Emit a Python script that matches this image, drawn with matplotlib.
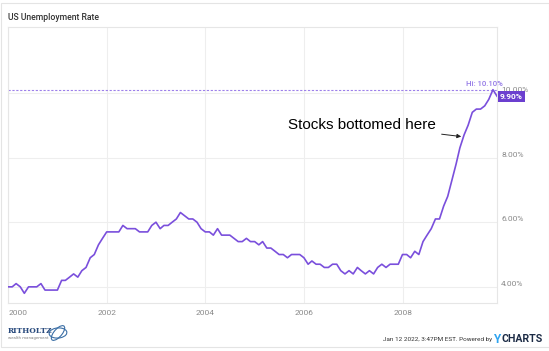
import numpy as np
import pandas as pd
import matplotlib.pyplot as plt
import matplotlib.dates as mdates
from matplotlib.patches import Rectangle, Ellipse

# monthly US unemployment rate, Dec 1999 - Nov 2009 (month-end dates)
dates = pd.date_range("1999-12-31", "2009-11-30", freq="ME")
rate = [4.0,
        4.0, 4.1, 4.0, 3.8, 4.0, 4.0, 4.0, 4.1, 3.9, 3.9, 3.9, 3.9,
        4.2, 4.2, 4.3, 4.4, 4.3, 4.5, 4.6, 4.9, 5.0, 5.3, 5.5, 5.7,
        5.7, 5.7, 5.7, 5.9, 5.8, 5.8, 5.8, 5.7, 5.7, 5.7, 5.9, 6.0,
        5.8, 5.9, 5.9, 6.0, 6.1, 6.3, 6.2, 6.1, 6.1, 6.0, 5.8, 5.7,
        5.7, 5.6, 5.8, 5.6, 5.6, 5.6, 5.5, 5.4, 5.4, 5.5, 5.4, 5.4,
        5.3, 5.4, 5.2, 5.2, 5.1, 5.0, 5.0, 4.9, 5.0, 5.0, 5.0, 4.9,
        4.7, 4.8, 4.7, 4.7, 4.6, 4.6, 4.7, 4.7, 4.5, 4.4, 4.5, 4.4,
        4.6, 4.5, 4.4, 4.5, 4.4, 4.6, 4.7, 4.6, 4.7, 4.7, 4.7, 5.0,
        5.0, 4.9, 5.1, 5.0, 5.4, 5.6, 5.8, 6.1, 6.1, 6.5, 6.8, 7.3,
        7.8, 8.3, 8.7, 9.0, 9.4, 9.5, 9.5, 9.6, 9.8, 10.1, 9.9]
x_years = [2000, 2002, 2004, 2006, 2008]
y_ticks = [4, 6, 8, 10]
hi_value = max(rate)
last_value = rate[-1]

purple = "#7a4fdc"
grid_c = "#eeeeee"

W, H = 549, 351
fig = plt.figure(figsize=(W / 100, H / 100), dpi=100)
ax = fig.add_axes([8 / W, 1 - 303 / H, (497 - 8) / W, (303 - 27) / H])

ax.plot(dates, rate, color=purple, lw=1.2, zorder=3)
ax.axhline(hi_value, color="#9d80ea", lw=0.8, ls=(0, (2, 1.5)), zorder=2)

ax.set_xlim(dates[0], dates[-1])
ax.set_ylim(3.5, 12.04)

ax.set_xticks([pd.Timestamp(f"{y}-01-01") for y in x_years])
ax.set_xticklabels([str(y) for y in x_years], family="Roboto")
ax.yaxis.tick_right()
ax.set_yticks(y_ticks)
ax.set_yticklabels([f"{v:.2f}%" for v in y_ticks], family="Roboto", va="bottom")
ax.tick_params(length=0, labelsize=6, labelcolor="#8a8a8a")
ax.tick_params(axis="y", pad=3)
ax.tick_params(axis="x", pad=5)
ax.get_xticklabels()[0].set_ha("left")

ax.grid(True, color=grid_c, lw=0.8, zorder=0)
for s in ax.spines.values():
    s.set_color("#e6e6e6")
    s.set_linewidth(0.8)

# hi label and last value tag
ax.text(1.012, hi_value + 0.08, "Hi: 10.10%", transform=ax.get_yaxis_transform(),
        ha="right", va="bottom", fontsize=5.6, color="#9277e6",
        family="Roboto", fontweight="medium", clip_on=False, zorder=6)
ax.text(1.006, last_value, f"{last_value:.2f}%", transform=ax.get_yaxis_transform(),
        ha="left", va="center", fontsize=6, color="white", fontweight="bold",
        family="Roboto", clip_on=False, zorder=7,
        bbox=dict(boxstyle="square,pad=0.25", fc="#6b3fcf", ec="none"))

ax.annotate("Stocks bottomed here",
            xy=(pd.Timestamp("2009-03-10"), 8.65),
            xytext=(pd.Timestamp("2008-09-05"), 9.02),
            ha="right", va="center", fontsize=11, family="Liberation Sans",
            arrowprops=dict(arrowstyle="-|>", color="#222222", lw=0.7,
                            mutation_scale=6, shrinkA=2, shrinkB=0))

# header / footer
fig.text(8 / W, 1 - 17 / H, "US Unemployment Rate", fontsize=6.2, family="Roboto",
         fontweight="medium", color="#333333", va="center")
fig.add_artist(Rectangle((0.5 / W, 1 - 347 / H), 548 / W, 344 / H,
                         transform=fig.transFigure, fill=False,
                         ec="#e4e4e4", lw=0.8))

fig.text(8 / W, 1 - 331 / H, "RITHOLTZ", fontsize=5.4, family="DejaVu Serif",
         fontweight="bold", color="#2b4c7e", va="center")
fig.text(8 / W, 1 - 338 / H, "wealth management", fontsize=2.8,
         color="#777777", va="center")
fig.add_artist(Ellipse((58 / W, 1 - 333 / H), 18 / W, 10 / H, angle=20,
                       transform=fig.transFigure, fill=False, ec="#3a6ea5", lw=0.8))
fig.add_artist(Ellipse((58 / W, 1 - 333 / H), 9 / W, 16 / H, angle=-25,
                       transform=fig.transFigure, fill=False, ec="#3a6ea5", lw=0.8))

fig.text(492 / W, 1 - 340 / H, "Jan 12 2022, 3:47PM EST. Powered by", fontsize=4.6,
         family="Roboto", color="#333333", ha="right", va="center")
fig.text(494 / W, 1 - 339.5 / H, "Y", fontsize=8.5, family="Roboto",
         fontweight="bold", color="#2fa4f0", ha="left", va="center")
fig.text(501.5 / W, 1 - 339.5 / H, "CHARTS", fontsize=7.6, family="Roboto",
         fontweight="bold", color="#1c2b45", ha="left", va="center")

fig.savefig("out.png", dpi=100)
